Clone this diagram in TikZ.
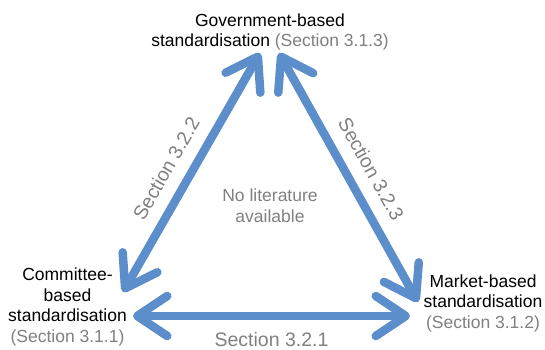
\documentclass[tikz,border=0pt]{standalone}
\usepackage{fontspec}
\setmainfont{Liberation Sans}
\usetikzlibrary{arrows.meta}
\definecolor{arrowblue}{RGB}{92,142,204}
\definecolor{labelgray}{RGB}{128,128,128}
\begin{document}
\begin{tikzpicture}[x=1pt,y=1pt,
  conn/.style={draw=arrowblue, line width=8.5pt,
    {Straight Barb[length=30pt,width=40pt,round]}-{Straight Barb[length=30pt,width=40pt,round]}},
  lbl/.style={font=\fontsize{17.5}{20.5}\selectfont, align=center, inner sep=0pt},
  sec/.style={text=labelgray, font=\fontsize{19.5}{23}\selectfont, inner sep=0pt},
]
\useasboundingbox (0,0) rectangle (545,349);
% text blocks (base = baseline of the last line)
\node[lbl, anchor=base] (gov) at (270,302) {Government-based\\standardisation {\color{labelgray}(Section 3.1.3)}};
\node[lbl, anchor=base] (com) at (67.5,7) {Committee-\\based\\standardisation\\{\color{labelgray}(Section 3.1.1)}};
\node[lbl, anchor=base] (mar) at (483,21) {Market-based\\standardisation\\{\color{labelgray}(Section 3.1.2)}};
\node[lbl, anchor=base, text=labelgray] (none) at (270,127) {No literature\\available};
% arrow ends
\coordinate (t1) at (260,296);
\coordinate (l1) at (123,57);
\coordinate (t2) at (279,296);
\coordinate (r1) at (418,47);
\coordinate (bl) at (133,33);
\coordinate (br) at (410,33);
% connectors
\draw[conn] (l1) -- node[sec, pos=0.467, sloped, above=12.6pt] (s322) {Section 3.2.2} (t1);
\draw[conn] (t2) -- node[sec, pos=0.513, sloped, above=12.6pt] (s323) {Section 3.2.3} (r1);
\draw[conn] (bl) -- node[sec, midway, below=12pt] (s321) {Section 3.2.1} (br);
\end{tikzpicture}
\end{document}
